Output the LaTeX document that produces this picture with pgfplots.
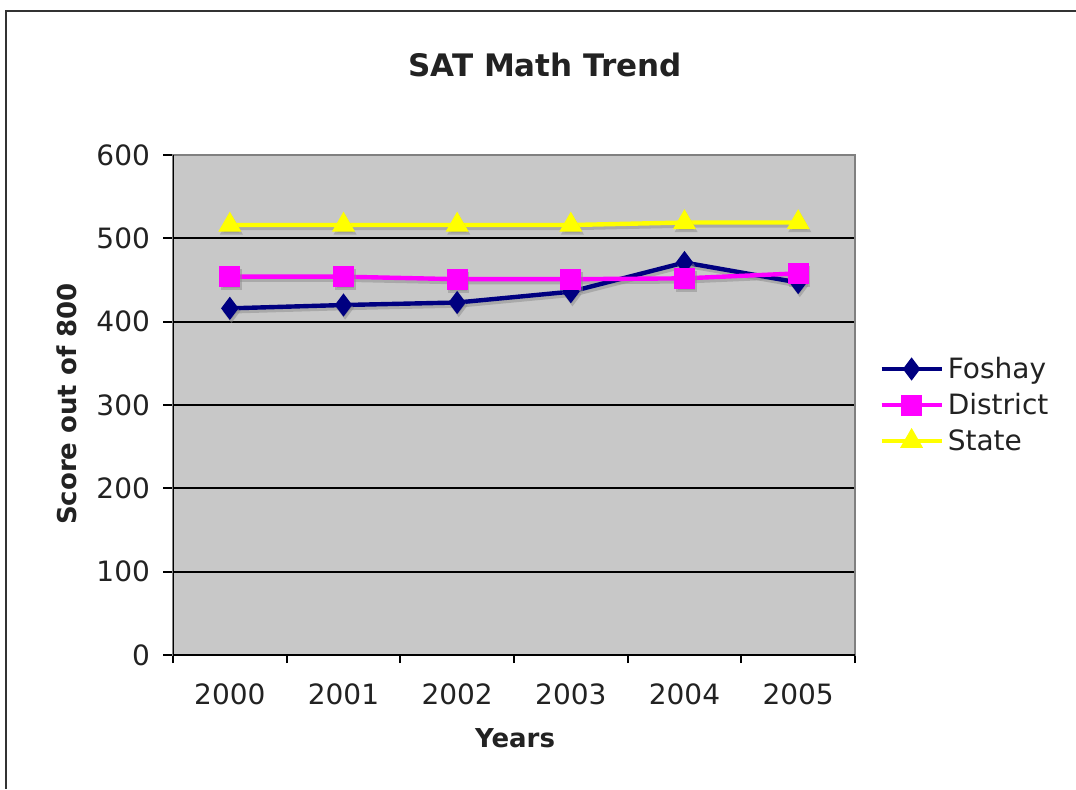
\documentclass[border=0pt]{standalone}
\usepackage{fontspec}
\setmainfont{DejaVu Sans}
\usepackage{pgfplots}
\pgfplotsset{compat=1.18}
\definecolor{plotbg}{HTML}{C8C8C8}
\definecolor{frameg}{HTML}{808080}
\definecolor{txt}{HTML}{222222}
\definecolor{fos}{HTML}{000080}
\definecolor{dis}{HTML}{FF00FF}
\definecolor{sta}{HTML}{FFFF00}
\begin{document}
\begin{tikzpicture}
\path[use as bounding box] (0,0) rectangle (538pt,-394.5pt);
\draw[color=black!80, line width=1pt] (538pt,-5.5pt) -- (3pt,-5.5pt) -- (3pt,-394.5pt);
\node[font=\fontsize{15.5}{18}\selectfont\bfseries, text=txt] at (272.5pt,-32.5pt) {SAT Math Trend};
\node[font=\fontsize{13}{15}\selectfont\bfseries, text=txt, rotate=90] at (33.5pt,-202pt) {Score out of 800};
\node[font=\fontsize{13}{15}\selectfont\bfseries, text=txt] at (257.5pt,-369pt) {Years};
\begin{axis}[
  at={(86.5pt,-327.5pt)}, anchor=south west,
  scale only axis, width=341pt, height=250pt,
  xmin=-0.5, xmax=5.5, ymin=0, ymax=600,
  axis background/.style={fill=plotbg},
  axis line style={frameg, line width=1pt},
  xtick={0,1,2,3,4,5},
  xticklabels={2000,2001,2002,2003,2004,2005},
  minor xtick={-0.5,0.5,1.5,2.5,3.5,4.5,5.5},
  major x tick style={draw=none},
  minor tick length=4pt,
  ytick={0,100,...,600},
  major tick length=5pt,
  tick align=outside, tick pos=left,
  tick style={black, line width=1pt},
  ymajorgrids, grid style={black, line width=1pt},
  /pgf/number format/assume math mode=true,
  ticklabel style={font=\fontsize{14}{16}\selectfont, text=txt},
  xticklabel style={yshift=-6pt},
  yticklabel style={xshift=-3pt},
  legend style={at={(1,0.5)}, xshift=12pt, anchor=west, draw=none, fill=none,
    font=\fontsize{14}{16}\selectfont, text=txt, row sep=2pt, inner sep=0pt},
  legend cell align=left,
  legend image code/.code={\draw[mark repeat=2, mark phase=2] plot coordinates {(0pt,0pt) (15pt,0pt) (30pt,0pt)};},
]
% shadows
\addplot[forget plot, black!45, line width=2.2pt, mark=diamond*, mark size=4pt, shift={(0.8pt,-1.5pt)}, opacity=0.5] coordinates {(0,416) (1,420) (2,423) (3,436) (4,471) (5,447)};
\addplot[forget plot, black!45, line width=2.2pt, mark=square*, mark size=4.2pt, shift={(0.8pt,-1.5pt)}, opacity=0.5] coordinates {(0,454) (1,454) (2,451) (3,451) (4,452) (5,458)};
\addplot[forget plot, black!45, line width=2.2pt, mark=triangle*, mark size=4.5pt, shift={(0.8pt,-1.5pt)}, opacity=0.5] coordinates {(0,516) (1,516) (2,516) (3,516) (4,519) (5,519)};
% series
\addplot[fos, line width=2.2pt, mark=diamond*, mark size=4pt] coordinates {(0,416) (1,420) (2,423) (3,436) (4,471) (5,447)};
\addlegendentry{Foshay}
\addplot[dis, line width=2.2pt, mark=square*, mark size=4.2pt] coordinates {(0,454) (1,454) (2,451) (3,451) (4,452) (5,458)};
\addlegendentry{District}
\addplot[sta, line width=2.2pt, mark=triangle*, mark size=4.5pt] coordinates {(0,516) (1,516) (2,516) (3,516) (4,519) (5,519)};
\addlegendentry{State}
\draw[black, line width=1pt] (rel axis cs:0,1) -- (rel axis cs:0,0) -- (rel axis cs:1,0);
\end{axis}
\end{tikzpicture}
\end{document}
